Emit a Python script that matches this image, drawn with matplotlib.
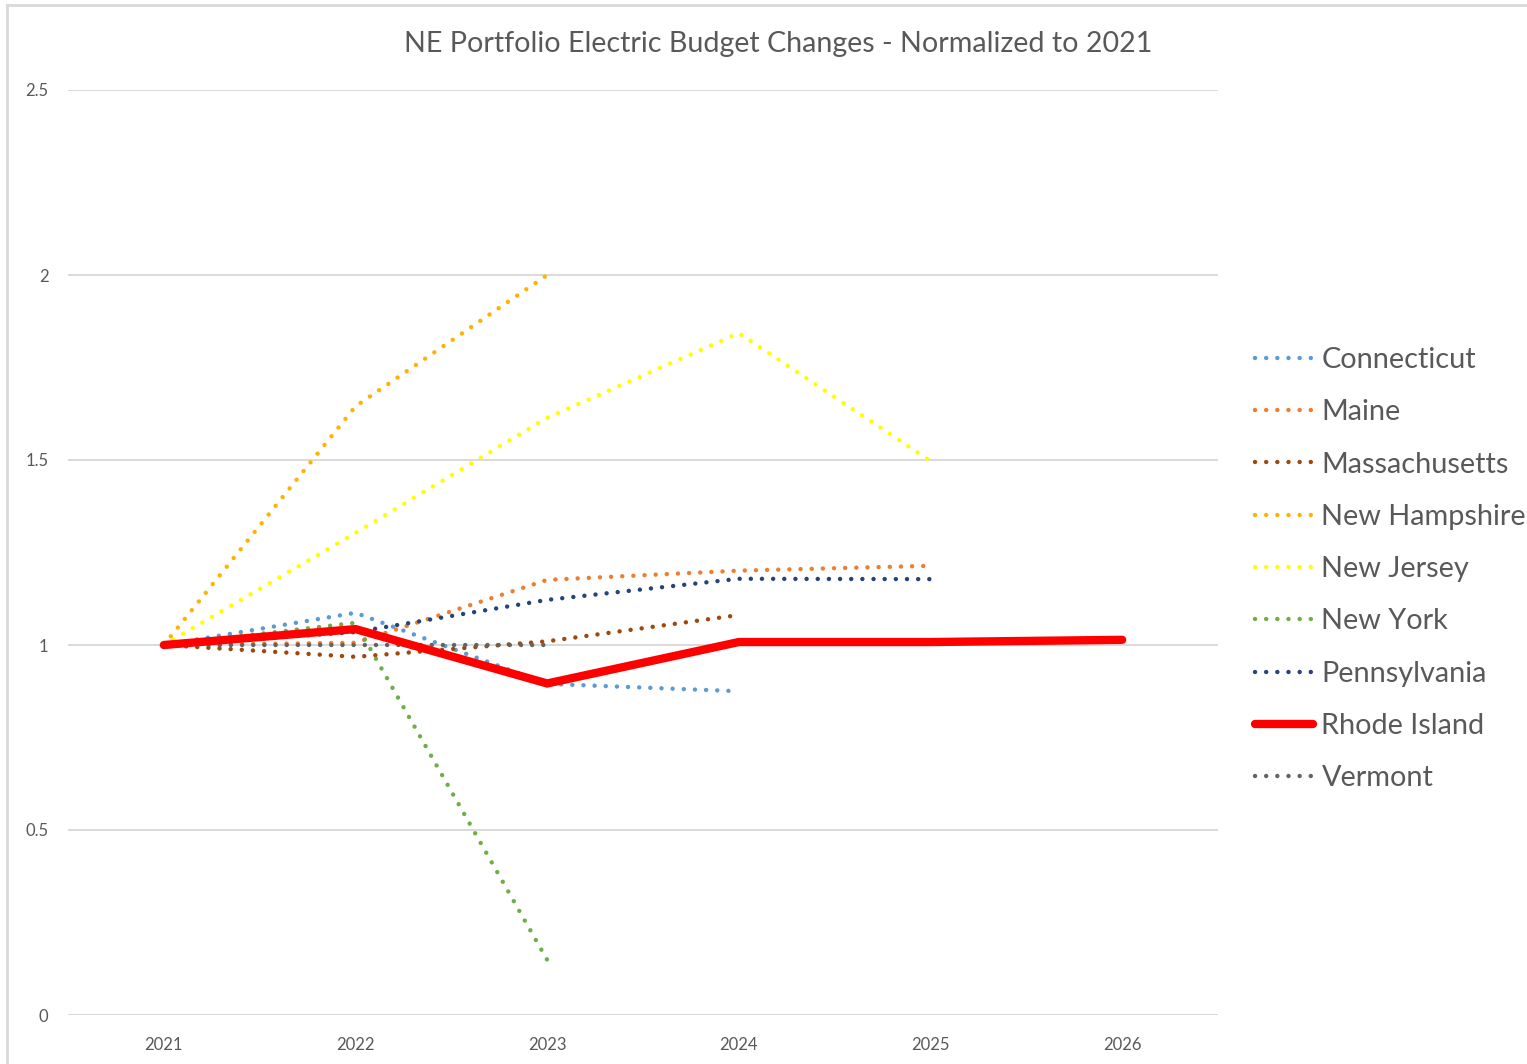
import matplotlib
matplotlib.use("Agg")
import matplotlib.pyplot as plt
from matplotlib.lines import Line2D

plt.rcParams['font.family'] = ['Lato', 'DejaVu Sans']

years = ["2021", "2022", "2023", "2024", "2025", "2026"]
connecticut = [1.0, 1.087, 0.895, 0.875]
maine = [1.0, 1.006, 1.176, 1.201, 1.214]
massachusetts = [1.0, 0.968, 1.01, 1.081]
new_hampshire = [1.0, 1.645, 2.0]
new_jersey = [1.0, 1.303, 1.614, 1.843, 1.497]
new_york = [1.0, 1.06, 0.149]
pennsylvania = [1.0, 1.035, 1.122, 1.179, 1.178]
rhode_island = [1.0, 1.043, 0.896, 1.008, 1.008, 1.014]
vermont = [1.0, 1.0, 1.0]

series = [
    ("Connecticut", connecticut, "#5B9BD5", "dot"),
    ("Maine", maine, "#ED7D31", "dot"),
    ("Massachusetts", massachusetts, "#9E480E", "dot"),
    ("New Hampshire", new_hampshire, "#FFB300", "dot"),
    ("New Jersey", new_jersey, "#FFFF00", "dot"),
    ("New York", new_york, "#70AD47", "dot"),
    ("Pennsylvania", pennsylvania, "#264478", "dot"),
    ("Rhode Island", rhode_island, "#FF0000", "solid"),
    ("Vermont", vermont, "#636363", "dot"),
]

fig = plt.figure(figsize=(15.27, 10.64), dpi=100)
ax = fig.add_axes([68/1527, 49/1064, (1218-68)/1527, 925/1064])

handles = []
for name, vals, color, style in series:
    x = list(range(len(vals)))
    if style == "dot":
        ln, = ax.plot(x, vals, color=color, lw=3.2, linestyle=(0, (0.01, 2.5)),
                      dash_capstyle='round', solid_capstyle='round', label=name, zorder=3)
    else:
        ln, = ax.plot(x, vals, color=color, lw=6.0, solid_capstyle='round',
                      solid_joinstyle='miter', label=name, zorder=4)
    handles.append(ln)

ax.set_xlim(-0.5, len(years) - 0.5)
ax.set_ylim(0, 2.5)
ax.set_xticks(range(len(years)))
ax.set_xticklabels(years)
ax.set_yticks([0, 0.5, 1, 1.5, 2, 2.5])
ax.set_yticklabels(["0", "0.5", "1", "1.5", "2", "2.5"])
ax.tick_params(axis='both', length=0, labelsize=12, colors="#595959")
ax.tick_params(axis='y', pad=14)
ax.tick_params(axis='x', pad=16)
ax.grid(axis='y', color="#D9D9D9", lw=1.4, zorder=0)
ax.set_axisbelow(True)
for s in ax.spines.values():
    s.set_visible(False)

fig.text(778/1527, 1 - 44/1064, "NE Portfolio Electric Budget Changes - Normalized to 2021",
         ha='center', va='center', fontsize=20.6, color="#595959")

leg = fig.legend(handles=handles, loc='upper left', bbox_to_anchor=(1255/1527, 1 - 347/1064),
                 frameon=False, fontsize=20.8, labelcolor="#595959", handlelength=2.0,
                 labelspacing=0.91, handletextpad=0.3, borderpad=0, borderaxespad=0)

# outer chart border (top and left visible)
fig.add_artist(Line2D([7/1527, 1], [1 - 5/1064, 1 - 5/1064], transform=fig.transFigure,
                      color="#D9D9D9", lw=2))
fig.add_artist(Line2D([7/1527, 7/1527], [0, 1 - 5/1064], transform=fig.transFigure,
                      color="#D9D9D9", lw=2))

fig.savefig("out.png", dpi=100)
